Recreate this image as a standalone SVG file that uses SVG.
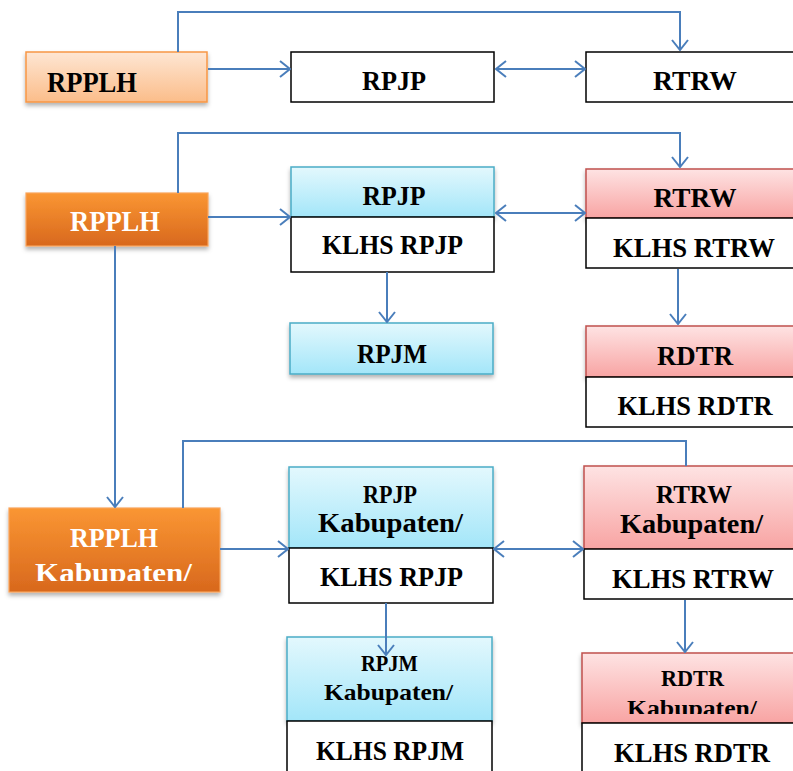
<svg xmlns="http://www.w3.org/2000/svg" width="793" height="771" viewBox="0 0 793 771">
<style>
text{font-family:"Liberation Serif","Times New Roman",serif;font-weight:bold;text-anchor:middle;fill:#000}
.w{fill:#fff}
.wb{fill:#fff;stroke:#000;stroke-width:1.5}
.lo{fill:url(#gLO);stroke:#f79646;stroke-width:1.5;filter:url(#sh)}
.do{fill:url(#gDO);stroke:#f9a45a;stroke-width:1.2;filter:url(#sh)}
.cy{fill:url(#gCY);stroke:#4bacc6;stroke-width:1.5;filter:url(#sh)}
.rd{fill:url(#gRD);stroke:#c0504d;stroke-width:1.5;filter:url(#sh)}
.c{fill:none;stroke:#4a7ebb;stroke-width:2}
.a{marker-end:url(#ah)}
.b{marker-start:url(#ahs);marker-end:url(#ah)}
</style>
<defs>
<linearGradient id="gLO" x1="0" y1="0" x2="0" y2="1"><stop offset="0" stop-color="#fee6d3"/><stop offset="1" stop-color="#fbbd8a"/></linearGradient>
<linearGradient id="gDO" x1="0" y1="0" x2="0" y2="1"><stop offset="0" stop-color="#fa9633"/><stop offset="1" stop-color="#d8681d"/></linearGradient>
<linearGradient id="gCY" x1="0" y1="0" x2="0" y2="1"><stop offset="0" stop-color="#e3f8fd"/><stop offset="1" stop-color="#a3e6f9"/></linearGradient>
<linearGradient id="gRD" x1="0" y1="0" x2="0" y2="1"><stop offset="0" stop-color="#fee3e3"/><stop offset="1" stop-color="#f8a4a3"/></linearGradient>
<filter id="sh" x="-10%" y="-20%" width="120%" height="150%"><feDropShadow dx="0" dy="3" stdDeviation="2" flood-color="#000" flood-opacity="0.3"/></filter>
<marker id="ah" viewBox="0 0 12 18" refX="11" refY="9" markerWidth="12" markerHeight="18" markerUnits="userSpaceOnUse" orient="auto"><path d="M1,1 L11,9 L1,17" fill="none" stroke="#4a7ebb" stroke-width="2"/></marker>
<marker id="ahs" viewBox="0 0 12 18" refX="11" refY="9" markerWidth="12" markerHeight="18" markerUnits="userSpaceOnUse" orient="auto-start-reverse"><path d="M1,1 L11,9 L1,17" fill="none" stroke="#4a7ebb" stroke-width="2"/></marker>
<clipPath id="clipA"><rect x="0" y="500" width="240" height="81"/></clipPath>
<clipPath id="clipB"><rect x="580" y="650" width="220" height="64"/></clipPath>
</defs>

<g id="rpplh1"><rect class="lo" x="26" y="52" width="181" height="50"/><text x="92" y="92" font-size="29" textLength="90" lengthAdjust="spacingAndGlyphs">RPPLH</text></g>
<g id="rpjp1"><rect class="wb" x="291" y="52" width="203" height="50"/><text x="394" y="90" font-size="28" textLength="64" lengthAdjust="spacingAndGlyphs">RPJP</text></g>
<g id="rtrw1"><rect class="wb" x="586" y="52" width="216" height="50"/><text x="695" y="90" font-size="28" textLength="84" lengthAdjust="spacingAndGlyphs">RTRW</text></g>

<g id="rpplh2"><rect class="do" x="26" y="193" width="182" height="53"/><text class="w" x="115" y="231" font-size="29" textLength="90" lengthAdjust="spacingAndGlyphs">RPPLH</text></g>
<g id="rpjp2"><rect class="cy" x="291" y="167" width="203" height="50"/><text x="394" y="205" font-size="28" textLength="63" lengthAdjust="spacingAndGlyphs">RPJP</text></g>
<g id="klhsrpjp2"><rect class="wb" x="291" y="217" width="203" height="55"/><text x="392.5" y="254" font-size="28" textLength="141" lengthAdjust="spacingAndGlyphs">KLHS RPJP</text></g>
<g id="rpjm2"><rect class="cy" x="290" y="323" width="203" height="51"/><text x="392" y="363" font-size="28" textLength="70" lengthAdjust="spacingAndGlyphs">RPJM</text></g>
<g id="rtrw2"><rect class="rd" x="586" y="169" width="216" height="49"/><text x="695" y="207" font-size="28" textLength="83" lengthAdjust="spacingAndGlyphs">RTRW</text></g>
<g id="klhsrtrw2"><rect class="wb" x="586" y="218" width="216" height="50"/><text x="694" y="257" font-size="28" textLength="162" lengthAdjust="spacingAndGlyphs">KLHS RTRW</text></g>
<g id="rdtr2"><rect class="rd" x="586" y="326" width="216" height="51"/><text x="695" y="365" font-size="28" textLength="76" lengthAdjust="spacingAndGlyphs">RDTR</text></g>
<g id="klhsrdtr2"><rect class="wb" x="586" y="377" width="216" height="50"/><text x="695" y="415" font-size="28" textLength="155" lengthAdjust="spacingAndGlyphs">KLHS RDTR</text></g>

<g id="rpplhkab"><rect class="do" x="9" y="508" width="211" height="84"/><g clip-path="url(#clipA)"><text class="w" x="114" y="547" font-size="27" textLength="88" lengthAdjust="spacingAndGlyphs">RPPLH</text><text class="w" x="113.5" y="582" font-size="28" textLength="157" lengthAdjust="spacingAndGlyphs">Kabupaten/</text></g></g>
<g id="rpjpkab"><rect class="cy" x="289" y="467" width="204" height="81"/><text x="390" y="503" font-size="26" textLength="54" lengthAdjust="spacingAndGlyphs">RPJP</text><text x="390.5" y="532" font-size="27" textLength="145" lengthAdjust="spacingAndGlyphs">Kabupaten/</text></g>
<g id="klhsrpjp3"><rect class="wb" x="289" y="548" width="204" height="55"/><text x="391.5" y="586" font-size="28" textLength="143" lengthAdjust="spacingAndGlyphs">KLHS RPJP</text></g>
<g id="rtrwkab"><rect class="rd" x="584" y="466" width="218" height="83"/><text x="694" y="503" font-size="26" textLength="76" lengthAdjust="spacingAndGlyphs">RTRW</text><text x="691.5" y="533" font-size="27" textLength="143" lengthAdjust="spacingAndGlyphs">Kabupaten/</text></g>
<g id="klhsrtrw3"><rect class="wb" x="584" y="549" width="218" height="50"/><text x="693" y="588" font-size="28" textLength="162" lengthAdjust="spacingAndGlyphs">KLHS RTRW</text></g>
<g id="rpjmkab"><rect class="cy" x="287" y="637" width="205" height="84"/><text x="389.5" y="671" font-size="23" textLength="57" lengthAdjust="spacingAndGlyphs">RPJM</text><text x="388.5" y="700" font-size="24" textLength="129" lengthAdjust="spacingAndGlyphs">Kabupaten/</text></g>
<g id="klhsrpjm3"><rect class="wb" x="287" y="721" width="205" height="60"/><text x="390" y="760" font-size="28" textLength="148" lengthAdjust="spacingAndGlyphs">KLHS RPJM</text></g>
<g id="rdtrkab"><rect class="rd" x="582" y="653" width="220" height="70"/><text x="692.5" y="686" font-size="23" textLength="63" lengthAdjust="spacingAndGlyphs">RDTR</text><g clip-path="url(#clipB)"><text x="692" y="716" font-size="24" textLength="130" lengthAdjust="spacingAndGlyphs">Kabupaten/</text></g></g>
<g id="klhsrdtr3"><rect class="wb" x="582" y="723" width="220" height="58"/><text x="692" y="762" font-size="28" textLength="156" lengthAdjust="spacingAndGlyphs">KLHS RDTR</text></g>

<g id="connectors">
<path class="c a" d="M178,52 V12 H680 V50"/>
<path class="c a" d="M208,69 H290"/>
<path class="c b" d="M496,69 H585"/>
<path class="c a" d="M178,193 V133 H680 V167"/>
<path class="c a" d="M208,217 H290"/>
<path class="c b" d="M496,213 H585"/>
<path class="c a" d="M387,272 V322"/>
<path class="c a" d="M678,269 V324"/>
<path class="c a" d="M115,246 V507"/>
<path class="c" d="M183,508 V441 H686 V466"/>
<path class="c a" d="M220,549 H288"/>
<path class="c b" d="M494,549 H583"/>
<path class="c a" d="M386,603 V655"/>
<path class="c a" d="M685,600 V652"/>
</g>
</svg>
